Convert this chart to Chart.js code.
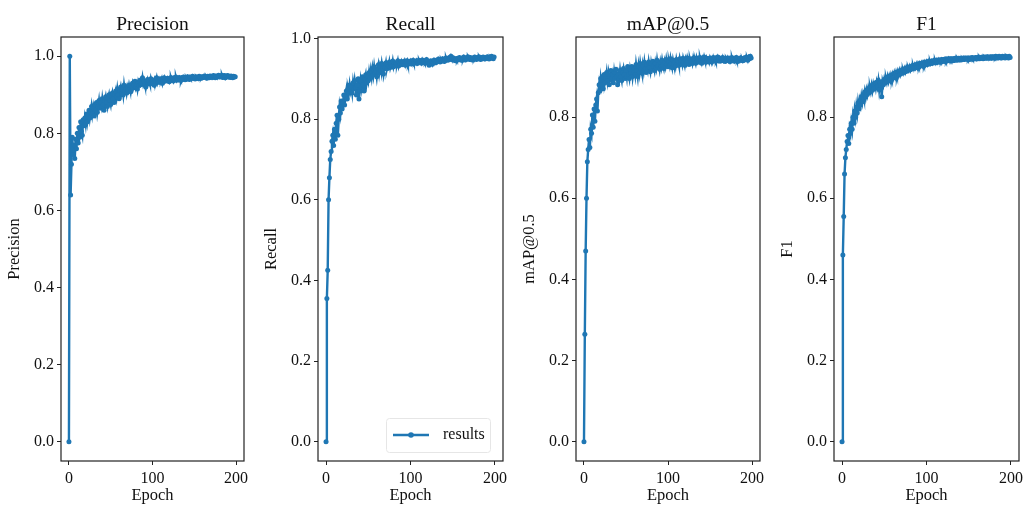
<!DOCTYPE html>
<html>
<head>
<meta charset="utf-8">
<script src="https://cdn.jsdelivr.net/npm/chart.js@4.4.1/dist/chart.umd.min.js"></script>
<style>
  html, body { margin: 0; padding: 0; background: #ffffff; width: 1024px; height: 507px; overflow: hidden; }
  canvas { position: absolute; top: 0; }
</style>
</head>
<body>
<canvas id="cPrecision" width="258" height="507"></canvas>
<canvas id="cRecall" width="260" height="507"></canvas>
<canvas id="cMap" width="259" height="507"></canvas>
<canvas id="cF1" width="260" height="507"></canvas>
<script>
// Training epochs (x axis)
const epochs = [
  0,1,2,3,4,5,6,7,8,9,10,11,12,13,14,15,16,17,18,19,
  20,21,22,23,24,25,26,27,28,29,30,31,32,33,34,35,36,37,38,39,
  40,41,42,43,44,45,46,47,48,49,50,51,52,53,54,55,56,57,58,59,
  60,61,62,63,64,65,66,67,68,69,70,71,72,73,74,75,76,77,78,79,
  80,81,82,83,84,85,86,87,88,89,90,91,92,93,94,95,96,97,98,99,
  100,101,102,103,104,105,106,107,108,109,110,111,112,113,114,115,116,117,118,119,
  120,121,122,123,124,125,126,127,128,129,130,131,132,133,134,135,136,137,138,139,
  140,141,142,143,144,145,146,147,148,149,150,151,152,153,154,155,156,157,158,159,
  160,161,162,163,164,165,166,167,168,169,170,171,172,173,174,175,176,177,178,179,
  180,181,182,183,184,185,186,187,188,189,190,191,192,193,194,195,196,197,198,199
];

const precision = [
  0.000,1.000,0.640,0.720,0.790,0.745,0.770,0.735,0.785,0.760,
  0.800,0.775,0.815,0.790,0.830,0.805,0.795,0.835,0.820,0.840,
  0.825,0.850,0.830,0.845,0.860,0.840,0.855,0.870,0.850,0.865,
  0.845,0.875,0.860,0.880,0.855,0.870,0.885,0.865,0.880,0.870,
  0.890,0.875,0.860,0.885,0.895,0.880,0.870,0.890,0.900,0.885,
  0.875,0.895,0.905,0.890,0.880,0.900,0.910,0.895,0.915,0.900,
  0.890,0.910,0.920,0.905,0.915,0.900,0.925,0.910,0.918,0.905,
  0.920,0.912,0.925,0.915,0.908,0.922,0.930,0.918,0.925,0.935,
  0.920,0.928,0.915,0.932,0.924,0.938,0.926,0.930,0.944,0.928,
  0.935,0.925,0.920,0.934,0.940,0.930,0.936,0.928,0.942,0.933,
  0.938,0.930,0.925,0.940,0.935,0.944,0.932,0.939,0.934,0.941,
  0.936,0.942,0.930,0.938,0.944,0.935,0.940,0.937,0.943,0.939,
  0.934,0.941,0.945,0.938,0.942,0.936,0.944,0.940,0.946,0.938,
  0.943,0.939,0.945,0.941,0.937,0.944,0.940,0.946,0.942,0.939,
  0.945,0.941,0.947,0.943,0.940,0.946,0.942,0.944,0.948,0.943,
  0.945,0.941,0.947,0.944,0.946,0.942,0.948,0.945,0.943,0.947,
  0.944,0.946,0.949,0.945,0.947,0.943,0.948,0.946,0.944,0.949,
  0.946,0.948,0.945,0.950,0.947,0.944,0.949,0.946,0.948,0.951,
  0.946,0.949,0.947,0.951,0.945,0.948,0.950,0.944,0.949,0.947,
  0.950,0.946,0.948,0.945,0.949,0.947,0.944,0.948,0.946,0.947
];

const recall = [
  0.000,0.355,0.425,0.600,0.655,0.700,0.720,0.745,0.760,0.735,
  0.775,0.750,0.790,0.810,0.760,0.800,0.830,0.815,0.845,0.825,
  0.840,0.860,0.835,0.855,0.870,0.850,0.875,0.865,0.885,0.870,
  0.880,0.865,0.890,0.875,0.895,0.880,0.860,0.885,0.900,0.850,
  0.870,0.895,0.880,0.905,0.885,0.870,0.900,0.910,0.890,0.905,
  0.895,0.915,0.900,0.920,0.905,0.925,0.910,0.930,0.915,0.920,
  0.905,0.925,0.935,0.915,0.930,0.920,0.938,0.925,0.912,0.932,
  0.928,0.940,0.925,0.935,0.930,0.942,0.928,0.936,0.932,0.944,
  0.930,0.938,0.934,0.940,0.936,0.945,0.932,0.940,0.937,0.943,
  0.935,0.941,0.938,0.944,0.934,0.940,0.945,0.936,0.942,0.939,
  0.944,0.937,0.941,0.946,0.939,0.943,0.940,0.945,0.938,0.942,
  0.946,0.941,0.944,0.939,0.947,0.942,0.945,0.940,0.944,0.948,
  0.942,0.938,0.934,0.940,0.945,0.943,0.936,0.941,0.947,0.944,
  0.940,0.946,0.943,0.949,0.945,0.942,0.948,0.944,0.950,0.946,
  0.943,0.949,0.952,0.946,0.950,0.947,0.953,0.949,0.956,0.951,
  0.947,0.952,0.948,0.945,0.950,0.946,0.951,0.948,0.953,0.949,
  0.946,0.951,0.948,0.954,0.950,0.947,0.952,0.949,0.955,0.951,
  0.948,0.953,0.950,0.947,0.952,0.949,0.954,0.951,0.948,0.953,
  0.950,0.955,0.951,0.948,0.953,0.950,0.954,0.951,0.949,0.953,
  0.951,0.955,0.952,0.949,0.954,0.951,0.956,0.953,0.950,0.954
];

const mapAt05 = [
  0.000,0.265,0.470,0.600,0.690,0.720,0.745,0.725,0.770,0.760,
  0.805,0.775,0.820,0.790,0.830,0.845,0.815,0.860,0.880,0.865,
  0.895,0.880,0.900,0.870,0.905,0.885,0.895,0.910,0.890,0.905,
  0.880,0.900,0.915,0.895,0.905,0.885,0.910,0.895,0.918,0.900,
  0.880,0.905,0.895,0.915,0.900,0.890,0.910,0.920,0.905,0.895,
  0.915,0.900,0.925,0.905,0.895,0.918,0.908,0.925,0.900,0.915,
  0.920,0.905,0.930,0.915,0.900,0.925,0.910,0.932,0.918,0.908,
  0.928,0.915,0.935,0.920,0.910,0.930,0.918,0.936,0.922,0.912,
  0.932,0.920,0.938,0.925,0.915,0.933,0.922,0.940,0.926,0.930,
  0.918,0.935,0.924,0.940,0.928,0.920,0.936,0.926,0.942,0.930,
  0.924,0.938,0.928,0.944,0.932,0.922,0.940,0.930,0.936,0.926,
  0.942,0.932,0.938,0.928,0.944,0.934,0.940,0.930,0.945,0.936,
  0.928,0.942,0.934,0.946,0.938,0.930,0.944,0.936,0.940,0.932,
  0.945,0.937,0.941,0.933,0.946,0.938,0.943,0.935,0.947,0.939,
  0.933,0.944,0.938,0.948,0.940,0.935,0.945,0.939,0.943,0.936,
  0.946,0.940,0.944,0.937,0.947,0.941,0.945,0.938,0.943,0.948,
  0.940,0.945,0.938,0.944,0.941,0.947,0.939,0.943,0.937,0.945,
  0.941,0.946,0.939,0.944,0.937,0.942,0.947,0.940,0.944,0.938,
  0.943,0.947,0.940,0.945,0.938,0.942,0.946,0.940,0.944,0.939,
  0.945,0.941,0.947,0.942,0.946,0.940,0.948,0.944,0.950,0.946
];

const f1 = [
  0.000,0.460,0.555,0.660,0.700,0.720,0.740,0.755,0.735,0.770,
  0.760,0.785,0.770,0.800,0.785,0.815,0.800,0.825,0.810,0.835,
  0.820,0.840,0.830,0.850,0.838,0.855,0.845,0.862,0.850,0.866,
  0.856,0.870,0.860,0.874,0.864,0.878,0.866,0.880,0.870,0.884,
  0.872,0.886,0.876,0.890,0.868,0.885,0.878,0.850,0.888,0.880,
  0.893,0.884,0.896,0.887,0.899,0.889,0.900,0.892,0.903,0.895,
  0.905,0.897,0.908,0.900,0.910,0.902,0.912,0.904,0.914,0.906,
  0.915,0.908,0.917,0.910,0.919,0.912,0.921,0.914,0.922,0.916,
  0.924,0.917,0.925,0.919,0.927,0.920,0.928,0.922,0.930,0.923,
  0.931,0.925,0.932,0.926,0.933,0.927,0.934,0.928,0.935,0.929,
  0.936,0.930,0.937,0.931,0.938,0.932,0.938,0.933,0.939,0.934,
  0.940,0.934,0.940,0.935,0.941,0.936,0.941,0.937,0.942,0.937,
  0.942,0.938,0.943,0.938,0.943,0.939,0.944,0.939,0.944,0.940,
  0.944,0.939,0.944,0.940,0.945,0.940,0.945,0.941,0.945,0.941,
  0.945,0.941,0.945,0.942,0.946,0.942,0.946,0.943,0.946,0.942,
  0.946,0.942,0.946,0.943,0.947,0.943,0.946,0.944,0.947,0.943,
  0.947,0.944,0.948,0.944,0.947,0.945,0.948,0.944,0.948,0.945,
  0.948,0.945,0.949,0.945,0.948,0.946,0.949,0.945,0.949,0.946,
  0.949,0.946,0.950,0.946,0.949,0.946,0.950,0.947,0.949,0.946,
  0.950,0.947,0.949,0.946,0.950,0.947,0.949,0.946,0.950,0.947
];

// Tick values shown on the axes
const xTicks = [0, 100, 200];
const yTicks = [0.0, 0.2, 0.4, 0.6, 0.8, 1.0];

const seriesLabel = 'results';

const BLUE = '#1f77b4';
const SERIF = "'Liberation Serif', 'DejaVu Serif', serif";
const Y_AXIS_W = 61;
const X_AXIS_H = 46;
const RIGHT_PAD = 14;

// Black frame around the plotting area
const framePlugin = {
  id: 'frame',
  afterDatasetsDraw(chart) {
    const { ctx, chartArea: a } = chart;
    ctx.save();
    ctx.strokeStyle = '#222';
    ctx.lineWidth = 1.2;
    ctx.strokeRect(a.left, a.top, a.right - a.left, a.bottom - a.top);
    ctx.restore();
  }
};

// Legend box in the lower right corner of the plotting area
const cornerLegend = {
  id: 'cornerLegend',
  afterDraw(chart) {
    const { ctx, chartArea: a } = chart;
    const ds = chart.data.datasets[0];
    const w = 104, h = 34;
    const x = a.right - 13 - w, y = a.bottom - 9 - h;
    ctx.save();
    ctx.fillStyle = 'rgba(255,255,255,0.85)';
    ctx.strokeStyle = '#e6e6e6';
    ctx.lineWidth = 1;
    ctx.beginPath();
    ctx.roundRect(x + 0.5, y + 0.5, w, h, 3);
    ctx.fill();
    ctx.stroke();
    const cy = y + h / 2;
    ctx.strokeStyle = BLUE;
    ctx.lineWidth = 2.4;
    ctx.beginPath();
    ctx.moveTo(x + 7, cy);
    ctx.lineTo(x + 43, cy);
    ctx.stroke();
    ctx.fillStyle = BLUE;
    ctx.beginPath();
    ctx.arc(x + 25, cy, 2.8, 0, Math.PI * 2);
    ctx.fill();
    ctx.fillStyle = '#111';
    ctx.font = '16px ' + SERIF;
    ctx.textBaseline = 'middle';
    ctx.textAlign = 'left';
    ctx.fillText(ds.label, x + 57, cy);
    ctx.restore();
  }
};

function makePanel(canvasId, plotLeft, plotWidth, title, values, withLegend) {
  const canvas = document.getElementById(canvasId);
  canvas.style.left = (plotLeft - Y_AXIS_W) + 'px';
  canvas.width = Y_AXIS_W + plotWidth + RIGHT_PAD;
  canvas.height = 507;

  const hi = Math.max(...values);
  const lo = Math.min(...values);
  const span = hi - lo;

  const plugins = [framePlugin];
  if (withLegend) plugins.push(cornerLegend);

  return new Chart(canvas, {
    type: 'line',
    data: {
      datasets: [{
        label: seriesLabel,
        data: epochs.map((e, i) => ({ x: e, y: values[i] })),
        borderColor: BLUE,
        backgroundColor: BLUE,
        borderWidth: 2.4,
        pointRadius: 2.5,
        pointBorderWidth: 0,
        pointBackgroundColor: BLUE,
        tension: 0,
        fill: false
      }]
    },
    options: {
      responsive: false,
      animation: false,
      devicePixelRatio: 1,
      layout: { padding: { left: 0, right: RIGHT_PAD, top: 0, bottom: 0 } },
      plugins: {
        legend: { display: false },
        tooltip: { enabled: false },
        title: {
          display: true,
          text: title,
          fullSize: false,
          color: '#111',
          font: { family: SERIF, size: 19.5, weight: 'normal' },
          padding: { top: 13, bottom: 0.6 }
        }
      },
      scales: {
        x: {
          type: 'linear',
          min: epochs[0] - 9.5,
          max: epochs[epochs.length - 1] + 10.5,
          afterBuildTicks: s => { s.ticks = xTicks.map(v => ({ value: v })); },
          afterFit: s => { s.height = X_AXIS_H; },
          border: { display: false },
          grid: { display: true, drawOnChartArea: false, drawTicks: true, tickLength: 4, tickColor: '#222', tickWidth: 1 },
          ticks: {
            padding: 4,
            color: '#111',
            maxRotation: 0,
            font: { family: SERIF, size: 16 },
            callback: v => String(v)
          },
          title: {
            display: true,
            text: 'Epoch',
            color: '#111',
            font: { family: SERIF, size: 16.5 },
            padding: { top: 0, bottom: 1 }
          }
        },
        y: {
          type: 'linear',
          min: lo - 0.05 * span,
          max: hi + 0.05 * span,
          afterBuildTicks: s => {
            s.ticks = yTicks.filter(v => v >= s.min - 1e-9 && v <= s.max + 1e-9).map(v => ({ value: v }));
          },
          afterFit: s => { s.width = Y_AXIS_W; },
          border: { display: false },
          grid: { display: true, drawOnChartArea: false, drawTicks: true, tickLength: 4, tickColor: '#222', tickWidth: 1 },
          ticks: {
            padding: 3,
            color: '#111',
            font: { family: SERIF, size: 16 },
            callback: v => Number(v).toFixed(1)
          },
          title: {
            display: true,
            text: title,
            color: '#111',
            font: { family: SERIF, size: 16.5 },
            padding: { top: 5, bottom: 0 }
          }
        }
      }
    },
    plugins: plugins
  });
}

makePanel('cPrecision', 61, 183, 'Precision', precision, false);
makePanel('cRecall', 318, 185, 'Recall', recall, true);
makePanel('cMap', 576, 184, 'mAP@0.5', mapAt05, false);
makePanel('cF1', 834, 185, 'F1', f1, false);
</script>
</body>
</html>
